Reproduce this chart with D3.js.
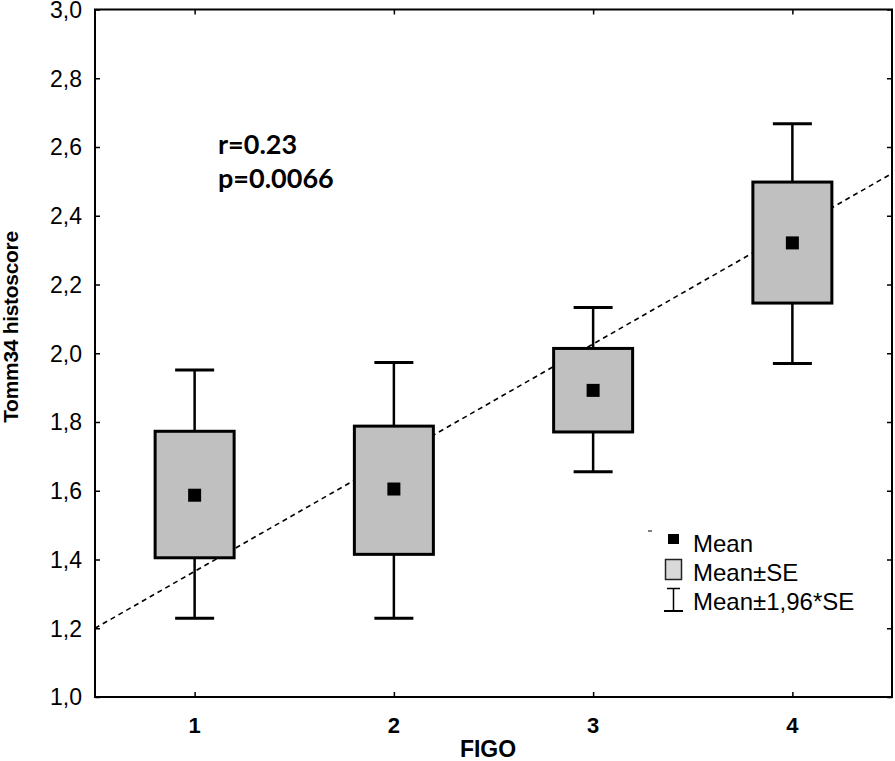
<!DOCTYPE html>
<html><head><meta charset="utf-8">
<script src="https://cdn.jsdelivr.net/npm/d3@7"></script>
<style>body{margin:0;background:#fff}svg{display:block}</style>
</head><body>
<script>
const categories = [1, 2, 3, 4];
const means      = [1.587, 1.605, 1.892, 2.321];
const seLow      = [1.405, 1.415, 1.771, 2.146];
const seHigh     = [1.773, 1.788, 2.014, 2.498];
const ciLow      = [1.229, 1.229, 1.655, 1.970];
const ciHigh     = [1.951, 1.973, 2.133, 2.668];
const yTicks     = [1.0, 1.2, 1.4, 1.6, 1.8, 2.0, 2.2, 2.4, 2.6, 2.8, 3.0];
const regIntercept = 1.0346, regSlope = 0.3308;
const statLines  = ["r=0.23", "p=0.0066"];
const legendLabels = ["Mean", "Mean\u00b1SE", "Mean\u00b11,96*SE"];

const W = 895, H = 761;
const m = {left: 95, right: 3, top: 9.5, bottom: 64};
const svg = d3.select("body").append("svg").attr("width", W).attr("height", H);

const x = d3.scaleLinear().domain([0.5, 4.5]).range([m.left, W - m.right]);
const y = d3.scaleLinear().domain([1.0, 3.0]).range([H - m.bottom, m.top]);
const fmt = d => d3.format(".1f")(d).replace(".", ",");

const sans = "'Liberation Sans', Arial, sans-serif";

// regression line
const xr = [0.5, 4.5];
svg.append("line")
  .attr("x1", x(xr[0])).attr("y1", y(regIntercept + regSlope * xr[0]))
  .attr("x2", x(xr[1])).attr("y2", y(regIntercept + regSlope * xr[1]))
  .attr("stroke", "#000").attr("stroke-width", 1.6).attr("stroke-dasharray", "5,4");

// whiskers and boxes
const g = svg.append("g");
categories.forEach((c, i) => {
  const cx = x(c);
  g.append("line").attr("x1", cx).attr("x2", cx).attr("y1", y(ciHigh[i])).attr("y2", y(seHigh[i]))
    .attr("stroke", "#000").attr("stroke-width", 2.5);
  g.append("line").attr("x1", cx).attr("x2", cx).attr("y1", y(seLow[i])).attr("y2", y(ciLow[i]))
    .attr("stroke", "#000").attr("stroke-width", 2.5);
  [ciHigh[i], ciLow[i]].forEach(v => {
    g.append("line").attr("x1", cx - 19.5).attr("x2", cx + 19.5).attr("y1", y(v)).attr("y2", y(v))
      .attr("stroke", "#000").attr("stroke-width", 3);
  });
  g.append("rect").attr("x", cx - 39.5).attr("width", 79)
    .attr("y", y(seHigh[i])).attr("height", y(seLow[i]) - y(seHigh[i]))
    .attr("fill", "#c0c0c0").attr("stroke", "#000").attr("stroke-width", 3);
  g.append("rect").attr("x", cx - 6.5).attr("y", y(means[i]) - 6.5).attr("width", 13).attr("height", 13)
    .attr("fill", "#000");
});

// frame
svg.append("rect").attr("x", m.left).attr("y", m.top)
  .attr("width", W - m.right - m.left).attr("height", H - m.bottom - m.top)
  .attr("fill", "none").attr("stroke", "#000").attr("stroke-width", 2);

// axes with inside ticks
const axL = svg.append("g").attr("transform", `translate(${m.left},0)`)
  .call(d3.axisRight(y).tickValues(yTicks).tickSize(5).tickFormat(""));
const axR = svg.append("g").attr("transform", `translate(${W - m.right},0)`)
  .call(d3.axisLeft(y).tickValues(yTicks).tickSize(5).tickFormat(""));
const axB = svg.append("g").attr("transform", `translate(0,${H - m.bottom})`)
  .call(d3.axisTop(x).tickValues(categories).tickSize(5).tickFormat(""));
const axT = svg.append("g").attr("transform", `translate(0,${m.top})`)
  .call(d3.axisBottom(x).tickValues(categories).tickSize(5).tickFormat(""));
[axL, axR, axB, axT].forEach(a => {
  a.select(".domain").remove();
  a.selectAll(".tick line").attr("stroke", "#000").attr("stroke-width", 1.5);
});

// y tick labels
svg.append("g").selectAll("text").data(yTicks).join("text")
  .attr("x", 82).attr("y", d => y(d)).attr("dy", "0.36em")
  .attr("text-anchor", "end").attr("font-family", sans).attr("font-size", 23)
  .text(fmt);

// x tick labels
svg.append("g").selectAll("text").data(categories).join("text")
  .attr("x", d => x(d)).attr("y", 733)
  .attr("text-anchor", "middle").attr("font-family", sans).attr("font-weight", "bold").attr("font-size", 22)
  .text(d => d);

// axis titles
svg.append("text").attr("x", 488).attr("y", 757).attr("text-anchor", "middle")
  .attr("font-family", sans).attr("font-weight", "bold").attr("font-size", 23).text("FIGO");
svg.append("text").attr("transform", "translate(18,327) rotate(-90)").attr("text-anchor", "middle")
  .attr("font-family", sans).attr("font-weight", "bold").attr("font-size", 21)
  .attr("letter-spacing", -0.3).text("Tomm34 histoscore");

// stats text
svg.append("g").selectAll("text").data(statLines).join("text")
  .attr("x", 218).attr("y", (d, i) => 154 + i * 34)
  .attr("font-family", "Lato, 'Open Sans', sans-serif").attr("font-weight", "bold").attr("font-size", 27)
  .text(d => d);

// legend
const lg = svg.append("g");
lg.append("line").attr("x1", 648).attr("x2", 652).attr("y1", 531).attr("y2", 531)
  .attr("stroke", "#000").attr("stroke-width", 1);
lg.append("rect").attr("x", 668).attr("y", 534).attr("width", 11).attr("height", 10).attr("fill", "#000");
lg.append("rect").attr("x", 665.5).attr("y", 559.5).attr("width", 16).attr("height", 20)
  .attr("fill", "#d9d9d9").attr("stroke", "#222").attr("stroke-width", 1.5);
lg.append("line").attr("x1", 673.5).attr("x2", 673.5).attr("y1", 588).attr("y2", 611).attr("stroke", "#000").attr("stroke-width", 1.5);
lg.append("line").attr("x1", 667).attr("x2", 680).attr("y1", 588.5).attr("y2", 588.5).attr("stroke", "#000").attr("stroke-width", 1.5);
lg.append("line").attr("x1", 664).attr("x2", 683).attr("y1", 611).attr("y2", 611).attr("stroke", "#000").attr("stroke-width", 2);
lg.selectAll("text.l").data(legendLabels).join("text").attr("class", "l")
  .attr("x", 693).attr("y", (d, i) => 552 + i * 29)
  .attr("font-family", sans).attr("font-size", 24).text(d => d);
</script>
</body></html>
